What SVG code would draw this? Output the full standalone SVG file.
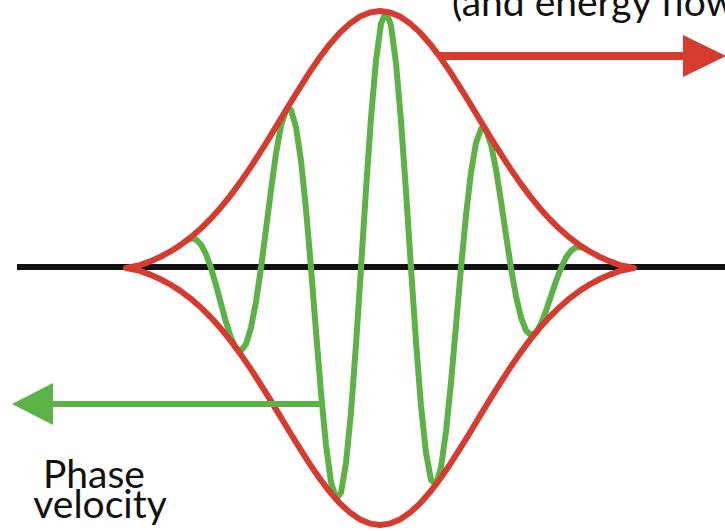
<svg xmlns="http://www.w3.org/2000/svg" width="725" height="531" viewBox="0 0 725 531">
<style>
.lbl{font-family:Lato,"Liberation Sans",sans-serif;font-size:39px;fill:#111}
.axis{stroke:#111;stroke-width:6;fill:none}
.wave{stroke:#5cb247;stroke-width:6;fill:none;stroke-linejoin:round;stroke-linecap:round}
.env{stroke:#d63b2f;stroke-width:6;fill:none;stroke-linejoin:round}
.gline{stroke:#5cb247;stroke-width:6;fill:none}
.rline{stroke:#d63b2f;stroke-width:8;fill:none}
</style>
<rect width="725" height="531" fill="#fff"/>
<g id="axis">
<line class="axis" x1="17" y1="267" x2="725" y2="267"/>
</g>
<g id="carrier-wave">
<polyline class="wave" points="186,240.9 191,238.5 196,239.4 201,244.7 206,254.2 211,268 216,285.1 221,303.7 226,322.2 231,337.7 236,348 241,350.7 246,344.1 251,327.6 256,301.7 261,268 266,229.4 271,189.8 276,153.7 281,125.7 286,110.1 291,110 296,127.1 301,160.8 306,209.3 311,268 316,331.4 321,392.8 326,445.1 331,482.2 336,498.9 341,492.7 346,462.9 351,412.2 356,344.8 361,268 366,189.5 371,117.7 376,60.6 381,23.7 386,11.8 391,25.3 396,63.2 401,120.6 406,191.6 411,268 416,341.9 421,405.7 426,452.9 431,479.9 436,484.2 441,467.3 446,431.6 451,382.5 456,325.8 461,268 466,215.2 471,172.3 476,143 481,128.9 486,130 491,144.5 496,169.5 501,201.1 506,235.2 511,268 516,296.2 521,317.4 526,330.5 531,335.2 536,332.5 541,323.6 546,310.9 551,295.9 556,281.2 561,268 566,257.6 571,250.7 576,247.3 581,247.1 586,249.2"/>
</g>
<g id="envelope">
<polygon class="env" points="126,268 140,265.1 150,261.4 160,257 170,251.7 180,245.4 190,237.9 200,229.3 210,219.5 220,208.4 230,196.1 240,182.6 250,168.1 260,152.7 270,136.6 280,120.1 290,103.5 300,87.3 310,71.6 320,57 330,43.9 340,32.6 350,23.4 360,16.6 370,12.4 380,11 390,12.4 400,16.6 410,23.4 420,32.6 430,43.9 440,57 450,71.6 460,87.3 470,103.5 480,120.1 490,136.6 500,152.7 510,168.1 520,182.6 530,196.1 540,208.4 550,219.5 560,229.3 570,237.9 580,245.4 590,251.7 600,257 610,261.4 620,265.1 634,268 620,270.9 610,274.6 600,279 590,284.3 580,290.6 570,298.1 560,306.7 550,316.5 540,327.6 530,339.9 520,353.4 510,367.9 500,383.3 490,399.4 480,415.9 470,432.5 460,448.7 450,464.4 440,479 430,492.1 420,503.4 410,512.6 400,519.4 390,523.6 380,525 370,523.6 360,519.4 350,512.6 340,503.4 330,492.1 320,479 310,464.4 300,448.7 290,432.5 280,415.9 270,399.4 260,383.3 250,367.9 240,353.4 230,339.9 220,327.6 210,316.5 200,306.7 190,298.1 180,290.6 170,284.3 160,279 150,274.6 140,270.9"/>
</g>
<g id="connectors">
<g id="phase-arrow">
<line class="gline" x1="323" y1="404" x2="48" y2="404"/>
<polygon points="12,404 53,383 53,425" fill="#5cb247"/>
</g>
<g id="group-arrow">
<line class="rline" x1="440" y1="56" x2="688" y2="56"/>
<polygon points="726,56 683,35 683,77" fill="#d63b2f"/>
</g>
</g>
<g id="label-group">
<text class="lbl" x="452" y="16">(and energy flow</text>
</g>
<g id="label-phase">
<text class="lbl" x="94" y="488" text-anchor="middle">Phase</text>
<text class="lbl" x="100" y="518" text-anchor="middle">velocity</text>
</g>
</svg>
